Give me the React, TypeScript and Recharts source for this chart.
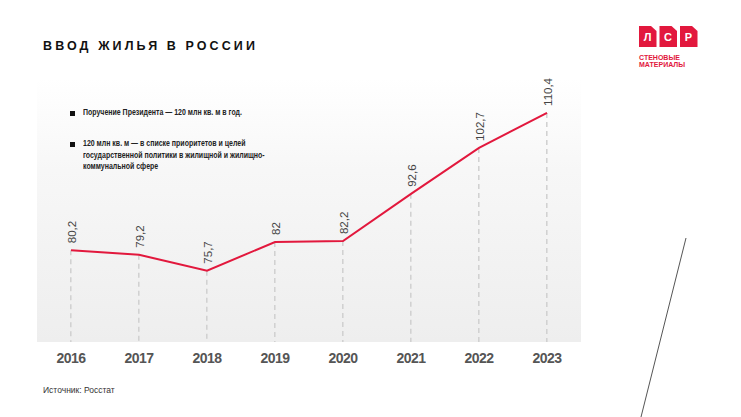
import React from 'react';
import { ComposedChart, Line, Bar, XAxis, YAxis, LabelList } from 'recharts';

const years = ['2016', '2017', '2018', '2019', '2020', '2021', '2022', '2023'];
const housing = [80.2, 79.2, 75.7, 82, 82.2, 92.6, 102.7, 110.4];

const titleText = 'ВВОД ЖИЛЬЯ В РОССИИ';
const noteFirst = ['Поручение Президента — 120 млн кв. м в год.'];
const noteSecond = [
  '120 млн кв. м — в списке приоритетов и целей',
  'государственной политики в жилищной и жилищно-',
  'коммунальной сфере',
];
const logoLetters = ['Л', 'С', 'Р'];
const logoCaption = ['СТЕНОВЫЕ', 'МАТЕРИАЛЫ'];
const sourceText = 'Источник: Росстат';

const data = years.map((year, i) => ({ year, value: housing[i] }));

const RED = '#e2183d';
const SANS = "'Liberation Sans', Arial, sans-serif";

// dashed drop line from the point down to the baseline
const DropLine = (props: any) => {
  const { x, y, width, height } = props;
  const cx = x + width / 2;
  return (
    <line
      x1={cx}
      y1={y}
      x2={cx}
      y2={y + height}
      stroke="#cfcfcf"
      strokeWidth={1.5}
      strokeDasharray="5 4"
    />
  );
};

const ValueLabel = (props: any) => {
  const { x, y, value } = props;
  const tx = x + 0.5;
  const ty = y - 7;
  return (
    <text
      x={tx}
      y={ty}
      transform={`rotate(-90, ${tx}, ${ty})`}
      textAnchor="start"
      dy="0.35em"
      fill="#444"
      fontSize={11.5}
      fontFamily={SANS}
    >
      {String(value).replace('.', ',')}
    </text>
  );
};

const Note = ({ top, lines }: { top: number; lines: string[] }) => (
  <div style={{ position: 'absolute', left: 70, top }}>
    <div
      style={{ position: 'absolute', left: 0, top: 4, width: 5, height: 5, background: '#111' }}
    />
    <div
      style={{
        position: 'absolute',
        left: 13,
        top: 0,
        fontFamily: SANS,
        fontWeight: 'bold',
        fontSize: 9.2,
        lineHeight: '11.7px',
        color: '#222',
        whiteSpace: 'nowrap',
        transform: 'scaleX(0.76)',
        transformOrigin: 'left top',
      }}
    >
      {lines.map((l) => (
        <div key={l}>{l}</div>
      ))}
    </div>
  </div>
);

const Logo = () => (
  <div style={{ position: 'absolute', left: 639, top: 26 }}>
    <svg width={60} height={22}>
      {logoLetters.map((ch, i) => {
        const x0 = i * 20.5;
        return (
          <g key={ch}>
            <polygon
              points={`${x0},0 ${x0 + 12},0 ${x0 + 17.5},5 ${x0 + 17.5},21 ${x0},21`}
              fill={RED}
            />
            <text
              x={x0 + 8.5}
              y={15}
              textAnchor="middle"
              fill="#fff"
              fontSize={11}
              fontWeight="bold"
              fontFamily={SANS}
            >
              {ch}
            </text>
          </g>
        );
      })}
    </svg>
    <div
      style={{
        fontFamily: SANS,
        fontWeight: 'bold',
        fontSize: 7,
        lineHeight: '7px',
        color: RED,
        marginTop: 2,
      }}
    >
      {logoCaption.map((c) => (
        <div key={c}>{c}</div>
      ))}
    </div>
  </div>
);

export default function App() {
  return (
    <div
      style={{
        position: 'absolute',
        left: 0,
        top: 0,
        width: 741,
        height: 417,
        background: '#fff',
        overflow: 'hidden',
      }}
    >
      <div
        style={{
          position: 'absolute',
          left: 37,
          top: 78,
          width: 544,
          height: 264,
          background: 'linear-gradient(to bottom, #ffffff 0%, #f7f7f7 35%, #eeeeee 100%)',
        }}
      />
      <div
        style={{
          position: 'absolute',
          left: 43,
          top: 39,
          fontFamily: SANS,
          fontWeight: 'bold',
          fontSize: 12.5,
          letterSpacing: 3.1,
          color: '#111',
          whiteSpace: 'nowrap',
        }}
      >
        {titleText}
      </div>
      <Note top={107} lines={noteFirst} />
      <Note top={138} lines={noteSecond} />
      <Logo />
      <div style={{ position: 'absolute', left: 0, top: 0 }}>
        <ComposedChart
          width={741}
          height={417}
          data={data}
          margin={{ top: 92, right: 160, bottom: 45, left: 37 }}
        >
          <XAxis
            dataKey="year"
            axisLine={false}
            tickLine={false}
            tickMargin={5}
            tick={{ fill: '#555', fontSize: 14, fontWeight: 'bold', fontFamily: SANS, letterSpacing: -0.5 }}
          />
          <YAxis hide domain={[60, 115]} />
          <Bar dataKey="value" shape={<DropLine />} isAnimationActive={false} />
          <Line
            type="linear"
            dataKey="value"
            stroke={RED}
            strokeWidth={2}
            dot={false}
            activeDot={false}
            isAnimationActive={false}
          >
            <LabelList dataKey="value" content={<ValueLabel />} />
          </Line>
        </ComposedChart>
      </div>
      <svg
        width={741}
        height={417}
        style={{ position: 'absolute', left: 0, top: 0, pointerEvents: 'none' }}
      >
        <line x1={686} y1={238} x2={641} y2={417} stroke="#555" strokeWidth={1} />
      </svg>
      <div
        style={{
          position: 'absolute',
          left: 43,
          top: 385,
          fontFamily: SANS,
          fontSize: 8.5,
          color: '#333',
          whiteSpace: 'nowrap',
        }}
      >
        {sourceText}
      </div>
    </div>
  );
}
